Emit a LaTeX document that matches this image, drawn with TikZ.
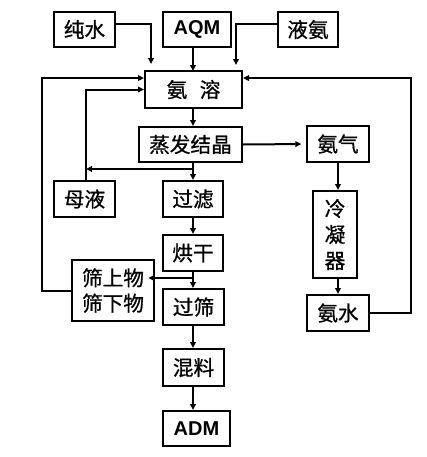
\documentclass[tikz,border=0pt]{standalone}
\usepackage{fontspec}
\setmainfont{Liberation Sans}
\newfontfamily\cjk[FakeBold=0.8]{Noto Sans CJK SC}
\usetikzlibrary{arrows.meta,calc}
\begin{document}
\begin{tikzpicture}[x=0.75pt,y=-0.75pt,
  box/.style={draw,line width=1.5pt,inner sep=0pt,font=\cjk\fontsize{15.5pt}{19pt}\selectfont,align=center},
  latin/.style={font=\bfseries\fontsize{15pt}{18pt}\selectfont},
  conn/.style={line width=1.5pt},
  arr/.style={conn,-{Triangle[length=4.5pt,width=4.2pt]}}]
\useasboundingbox (0,0) rectangle (427,457);
% boxes
\node[box,minimum width=45.75pt,minimum height=26.25pt] (chun) at (84.5,29.5) {纯水};
\node[box,latin,minimum width=51pt,minimum height=26.25pt] (aqm) at (197,29.5) {AQM};
\node[box,minimum width=45pt,minimum height=26.25pt] (yean) at (308,29.5) {液氨};
\node[box,minimum width=72.75pt,minimum height=27.75pt] (anrong) at (193.5,89.5) {氨\hspace{0.6em}溶};
\node[box,minimum width=77.25pt,minimum height=26.25pt] (zf) at (190.5,144.5) {蒸发结晶};
\node[box,minimum width=46.5pt,minimum height=27pt] (anqi) at (338,144) {氨气};
\node[box,minimum width=45.75pt,minimum height=27pt] (muye) at (84.5,199) {母液};
\node[box,minimum width=45pt,minimum height=27pt] (guolv) at (193,199) {过滤};
\node[box,minimum width=33pt,minimum height=65.25pt,font=\cjk\fontsize{15.5pt}{19.5pt}\selectfont] (lnq) at (335,234.5) {冷\\凝\\器};
\node[box,minimum width=45pt,minimum height=27pt] (hg) at (193,253) {烘干};
\node[box,minimum width=61.5pt,minimum height=45.75pt] (sx) at (113,290.5) {筛上物\\筛下物};
\node[box,minimum width=45.75pt,minimum height=27pt] (gs) at (193.5,307) {过筛};
\node[box,minimum width=46.5pt,minimum height=27pt] (anshui) at (338,313) {氨水};
\node[box,minimum width=45.75pt,minimum height=27.75pt] (hl) at (193.5,367.5) {混料};
\node[box,latin,minimum width=50.25pt,minimum height=26.25pt] (adm) at (196.5,428.5) {ADM};
% coordinates
\coordinate (t1) at (151,64);
\coordinate (t2) at (236,65);
\coordinate (lc) at (42,0);
\coordinate (rc) at (411,0);
\coordinate (aw1) at ([yshift=8.6pt]anrong.west);
\coordinate (ae1) at ([yshift=8.6pt]anrong.east);
\coordinate (aw2) at (anrong.west);
\coordinate (j1) at (193,169);
\coordinate (mline) at (86,169);
\coordinate (j2) at (193,278);
% connectors
\draw[arr] ([yshift=4.1pt]chun.east) -| (t1);
\draw[arr] ([yshift=4.1pt]yean.west) -| (t2);
\draw[arr] (aqm.south -| 193,0) -- (193,71);
\draw[arr] (anrong.south -| j1) -- (zf.north -| j1);
\draw[arr,shorten >=3.5pt] (zf.east) -- (anqi.west);
\draw[conn] (zf.south -| j1) -- (j1);
\draw[arr] (j1) -- (guolv.north -| j1);
\draw[arr] (j1) -- (mline);
\draw[arr] (muye.north -| mline) |- (aw2);
\draw[arr] (sx.west) -| (lc |- aw1) -- (aw1);
\draw[arr] (anshui.east) -| (rc |- ae1) -- (ae1);
\draw[arr] (anqi.south) -- (anqi.south |- lnq.north);
\draw[arr] (lnq.south -| anqi) -- (anshui.north);
\draw[arr] (guolv.south -| j1) -- (hg.north -| j1);
\draw[arr] (hg.south -| j2) -- (gs.north -| j2);
\draw[arr,shorten >=-5pt] (j2) -- (sx.east |- j2);
\draw[arr] (gs.south -| j1) -- (hl.north -| j1);
\draw[arr] (hl.south -| j1) -- (adm.north -| j1);
\end{tikzpicture}
\end{document}
